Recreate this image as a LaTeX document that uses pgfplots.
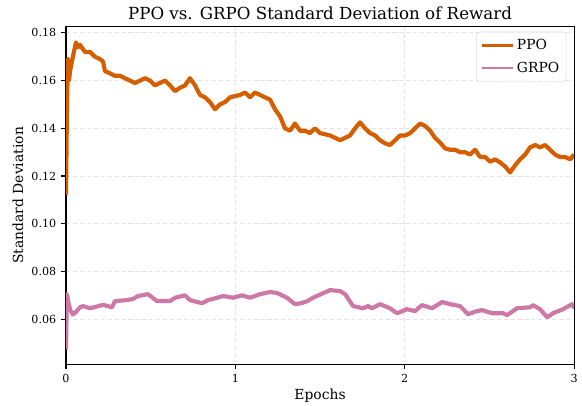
\documentclass[border=0pt]{standalone}
\usepackage{fontspec}
\setmainfont{DejaVu Serif}
\usepackage{pgfplots}
\pgfplotsset{compat=1.18}
\definecolor{ppo}{HTML}{D55E00}
\definecolor{grpo}{HTML}{CC79A7}
\begin{document}
\begin{tikzpicture}
\useasboundingbox (0,0) rectangle (419pt,-291.6pt);
\begin{axis}[
  at={(47.5pt,-19.2pt)}, anchor=north west,
  scale only axis, width=365.8pt, height=242.9pt,
  xmin=0, xmax=3, ymin=0.0412, ymax=0.1826,
  xtick={0,1,2,3},
  ytick={0.06,0.08,0.10,0.12,0.14,0.16,0.18},
  yticklabel style={/pgf/number format/fixed,/pgf/number format/fixed zerofill,/pgf/number format/precision=2},
  /pgf/number format/assume math mode=true,
  tick label style={font=\fontsize{8}{9.6}\selectfont},
  tick align=outside, tick pos=left,
  major tick length=3.5pt,
  every tick/.style={black, line width=0.8pt},
  axis line style={black, line width=0.8pt},
  grid=major,
  major grid style={dashed, dash pattern=on 3pt off 2pt, gray!22, line width=0.6pt},
  title={PPO vs. GRPO Standard Deviation of Reward},
  title style={font=\fontsize{12}{14}\selectfont, yshift=-4.5pt},
  xlabel={Epochs}, ylabel={Standard Deviation},
  label style={font=\fontsize{10}{12}\selectfont},
  xlabel style={yshift=2pt},
  ylabel style={yshift=-1pt},
  legend pos=north east,
  legend style={font=\fontsize{10}{12}\selectfont, draw=gray!30, rounded corners=2pt, fill=white, fill opacity=0.8, text opacity=1, inner xsep=3pt, inner ysep=3.5pt, row sep=3pt, at={(0.985,0.985)}},
  legend cell align=left,
  legend image code/.code={\draw[#1, line width=2pt] (0pt,0pt) -- (22pt,0pt);},
]
\addplot[ppo, line width=3pt, line join=round] coordinates {
(0.000,0.112) (0.006,0.150) (0.012,0.169) (0.018,0.160) (0.024,0.164) (0.035,0.168)
(0.047,0.172) (0.059,0.176) (0.071,0.174) (0.083,0.175) (0.112,0.172) (0.142,0.172)
(0.171,0.170) (0.201,0.169) (0.219,0.168) (0.230,0.164) (0.260,0.163) (0.289,0.162)
(0.319,0.162) (0.348,0.161) (0.378,0.160) (0.407,0.159) (0.437,0.160) (0.467,0.161)
(0.496,0.160) (0.526,0.158) (0.555,0.159) (0.585,0.160) (0.614,0.158) (0.644,0.1556)
(0.673,0.157) (0.703,0.158) (0.732,0.161) (0.762,0.158) (0.791,0.154) (0.821,0.153)
(0.850,0.151) (0.880,0.148) (0.909,0.150) (0.939,0.151) (0.969,0.153) (0.998,0.1535)
(1.028,0.154) (1.057,0.155) (1.087,0.153) (1.116,0.155) (1.146,0.154) (1.175,0.153)
(1.205,0.152) (1.234,0.148) (1.264,0.145) (1.293,0.140) (1.323,0.139) (1.352,0.142)
(1.382,0.139) (1.411,0.139) (1.441,0.138) (1.470,0.140) (1.500,0.138) (1.530,0.1375)
(1.559,0.137) (1.589,0.136) (1.618,0.135) (1.648,0.136) (1.677,0.137) (1.707,0.140)
(1.736,0.1425) (1.766,0.140) (1.795,0.138) (1.825,0.137) (1.854,0.135) (1.884,0.1337)
(1.913,0.133) (1.943,0.135) (1.972,0.137) (2.002,0.137) (2.032,0.138) (2.061,0.140)
(2.091,0.142) (2.120,0.141) (2.150,0.139) (2.179,0.136) (2.209,0.134) (2.238,0.1316)
(2.268,0.131) (2.297,0.131) (2.327,0.130) (2.356,0.130) (2.386,0.129) (2.415,0.131)
(2.445,0.128) (2.474,0.128) (2.504,0.126) (2.534,0.127) (2.563,0.1257) (2.593,0.124)
(2.622,0.1215) (2.652,0.1245) (2.681,0.127) (2.711,0.129) (2.740,0.132) (2.770,0.133)
(2.799,0.132) (2.829,0.133) (2.858,0.131) (2.888,0.129) (2.917,0.128) (2.947,0.128)
(2.977,0.127) (3.000,0.129)
};
\addlegendentry{PPO}
\addplot[grpo, line width=3pt, line join=round] coordinates {
(0.000,0.0474) (0.003,0.060) (0.006,0.0705) (0.012,0.068) (0.024,0.064) (0.041,0.062)
(0.059,0.063) (0.083,0.065) (0.100,0.0655) (0.142,0.0646) (0.177,0.0652) (0.219,0.066)
(0.272,0.065) (0.289,0.0676) (0.360,0.068) (0.396,0.0685) (0.425,0.0697) (0.484,0.0705)
(0.537,0.0676) (0.614,0.0676) (0.644,0.069) (0.703,0.070) (0.732,0.068) (0.803,0.0667)
(0.839,0.068) (0.892,0.069) (0.927,0.0697) (0.986,0.069) (1.039,0.070) (1.087,0.069)
(1.146,0.0705) (1.205,0.0714) (1.246,0.071) (1.305,0.069) (1.352,0.0663) (1.388,0.0667)
(1.423,0.0675) (1.459,0.069) (1.518,0.0709) (1.559,0.0722) (1.618,0.0718) (1.648,0.0705)
(1.695,0.0655) (1.754,0.0646) (1.784,0.0655) (1.807,0.0646) (1.854,0.0663) (1.913,0.0646)
(1.955,0.0625) (2.014,0.0642) (2.061,0.0634) (2.102,0.0659) (2.161,0.0646) (2.221,0.0672)
(2.268,0.0663) (2.327,0.0655) (2.374,0.0621) (2.427,0.0634) (2.457,0.0638) (2.516,0.0625)
(2.581,0.0625) (2.604,0.0617) (2.663,0.0646) (2.740,0.0650) (2.758,0.0659) (2.799,0.0642)
(2.841,0.0608) (2.876,0.0625) (2.935,0.0642) (2.988,0.0663) (3.000,0.0646)
};
\addlegendentry{GRPO}
\end{axis}
\end{tikzpicture}
\end{document}
